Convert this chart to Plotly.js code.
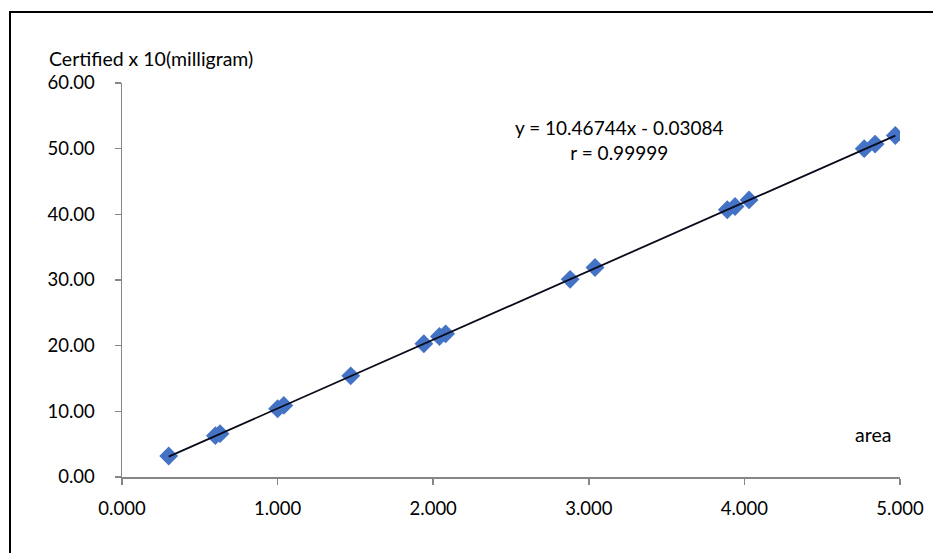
<!DOCTYPE html>
<html>
<head>
<meta charset="utf-8">
<script src="https://cdn.plot.ly/plotly-3.0.1.min.js"></script>
<style>
  html, body { margin: 0; padding: 0; background: #fff; }
  #frame { position: absolute; left: 9px; top: 11px; width: 940px; height: 560px;
           border-left: 2px solid #000; border-top: 2px solid #000; }
  #chart { position: absolute; left: 0; top: 0; width: 933px; height: 553px; }
</style>
</head>
<body>
<div id="frame"></div>
<div id="chart"></div>
<script>
// Data
const area      = [0.30, 0.60, 0.63, 1.00, 1.04, 1.47, 1.94, 2.04, 2.08, 2.88, 3.04, 3.89, 3.94, 4.03, 4.77, 4.84, 4.97];
const certified = [3.2, 6.3, 6.6, 10.4, 10.9, 15.4, 20.3, 21.4, 21.8, 30.1, 31.9, 40.7, 41.2, 42.2, 50.0, 50.7, 52.0];
const slope = 10.46744;
const intercept = -0.03084;
const xTicks = [0, 1, 2, 3, 4, 5];
const xTickLabels = ["0.000", "1.000", "2.000", "3.000", "4.000", "5.000"];
const yTicks = [0, 10, 20, 30, 40, 50, 60];
const yTickLabels = ["0.00", "10.00", "20.00", "30.00", "40.00", "50.00", "60.00"];
const equationText = "y = 10.46744x - 0.03084<br>r = 0.99999";
const yTitle = "Certified x 10(milligram)";
const xTitle = "area";

const xMin = Math.min(...area), xMax = Math.max(...area);
const fitX = [xMin, xMax];
const fitY = fitX.map(v => slope * v + intercept);

const font = "Lato, 'Open Sans', sans-serif";
const fs = 19.5;
const tfs = 18.5;

const traces = [
  {
    x: area, y: certified, type: "scatter", mode: "markers",
    marker: { symbol: "diamond", size: 14.5, color: "#4472C4", line: { width: 0 } },
    showlegend: false, hoverinfo: "x+y"
  },
  {
    x: fitX, y: fitY, type: "scatter", mode: "lines",
    line: { color: "#0a0a1a", width: 1.8 },
    showlegend: false, hoverinfo: "skip"
  }
];

const layout = {
  width: 933, height: 553,
  margin: { l: 122, r: 33, t: 83, b: 76 },
  paper_bgcolor: "rgba(0,0,0,0)", plot_bgcolor: "rgba(0,0,0,0)",
  font: { family: font, size: fs, color: "#000" },
  xaxis: {
    range: [0, 5], tickvals: xTicks, ticktext: xTickLabels,
    showgrid: false, zeroline: false, showline: true, linecolor: "#868686", linewidth: 1.5,
    ticks: "outside", ticklen: 6, tickcolor: "#868686", tickwidth: 1.5,
    ticklabelstandoff: 8,
    tickfont: { family: font, size: tfs, color: "#000" }
  },
  yaxis: {
    range: [0, 60], tickvals: yTicks, ticktext: yTickLabels,
    showgrid: false, zeroline: false, showline: true, linecolor: "#868686", linewidth: 1.5,
    ticks: "outside", ticklen: 6, tickcolor: "#868686", tickwidth: 1.5,
    ticklabelstandoff: 16,
    tickfont: { family: font, size: tfs, color: "#000" }
  },
  annotations: [
    { xref: "paper", yref: "paper", x: -0.097, y: 1.062, xanchor: "left", yanchor: "middle",
      text: yTitle, showarrow: false, font: { family: font, size: fs, color: "#000" } },
    { xref: "paper", yref: "paper", x: 0.965, y: 0.107, xanchor: "center", yanchor: "middle",
      text: xTitle, showarrow: false, font: { family: font, size: fs, color: "#000" } },
    { xref: "paper", yref: "paper", x: 0.639, y: 0.855, xanchor: "center", yanchor: "middle",
      text: equationText, showarrow: false, align: "center",
      font: { family: font, size: 19, color: "#000" } }
  ]
};

Plotly.newPlot("chart", traces, layout, { displayModeBar: false, staticPlot: true });
</script>
</body>
</html>
